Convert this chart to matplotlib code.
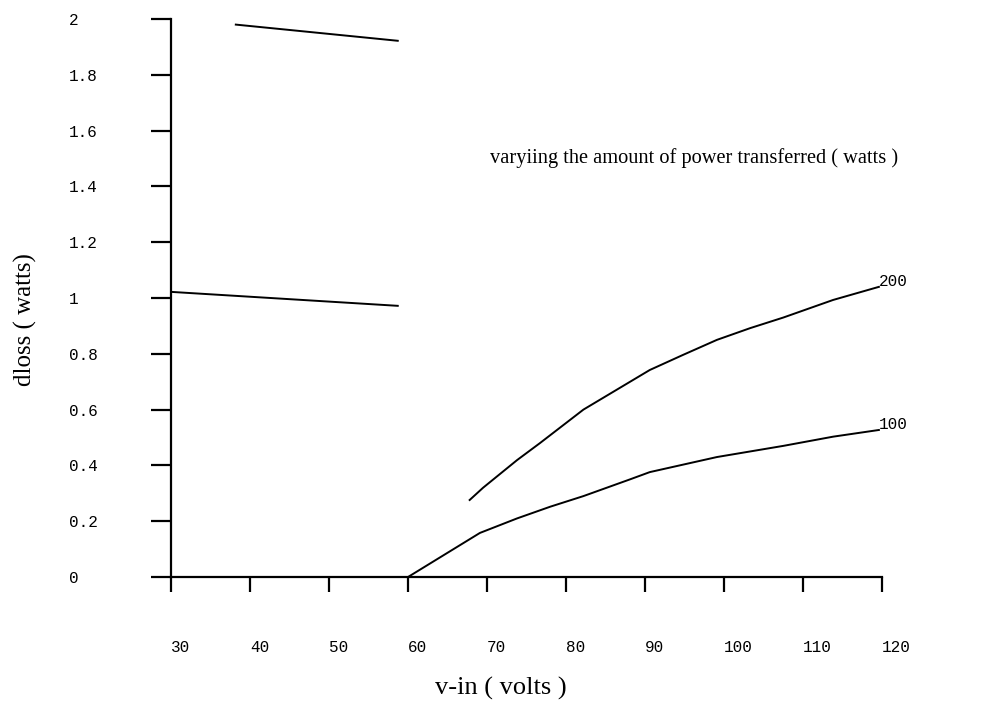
import numpy as np
import matplotlib.pyplot as plt

# data
top_v = [38.2, 58.7]
top_loss = [1.98, 1.922]

mid_v = [30, 58.7]
mid_loss = [1.022, 0.972]

p100_v = [60, 69.1, 73.8, 78.0, 82.2, 88.1, 90.6, 99.1, 107.5, 113.8, 119.6]
p100_loss = [0.0, 0.158, 0.21, 0.252, 0.29, 0.35, 0.376, 0.43, 0.47, 0.503, 0.527]

p200_v = [67.8, 69.5, 73.8, 76.7, 82.2, 90.6, 94.8, 99.1, 103.3, 107.5, 113.8, 119.6]
p200_loss = [0.276, 0.32, 0.419, 0.48, 0.60, 0.742, 0.796, 0.85, 0.892, 0.93, 0.993, 1.04]

xticks = [30, 40, 50, 60, 70, 80, 90, 100, 110, 120]
yticks = [0, 0.2, 0.4, 0.6, 0.8, 1.0, 1.2, 1.4, 1.6, 1.8, 2.0]
ytick_labels = ["0", "0.2", "0.4", "0.6", "0.8", "1", "1.2", "1.4", "1.6", "1.8", "2"]

mono = "Liberation Mono"
serif = "Liberation Serif"

fig = plt.figure(figsize=(9.96, 7.15), dpi=100)
ax = fig.add_axes([0.1717, 0.193, 0.7139, 0.7804])

lw = 1.4
ax.plot(top_v, top_loss, color="black", lw=lw)
ax.plot(mid_v, mid_loss, color="black", lw=lw)
ax.plot(p100_v, p100_loss, color="black", lw=lw)
ax.plot(p200_v, p200_loss, color="black", lw=lw)

ax.text(119.6, 1.06, "200", fontfamily=mono, fontsize=11.5, ha="left", va="center")
ax.text(119.6, 0.548, "100", fontfamily=mono, fontsize=11.5, ha="left", va="center")

ax.text(96.2, 1.5, "varyiing the amount of power transferred ( watts )",
        fontfamily=serif, fontsize=14.7, ha="center", va="center")

ax.set_xlim(30, 120)
ax.set_ylim(0, 2)
ax.spines["top"].set_visible(False)
ax.spines["right"].set_visible(False)
ax.spines["left"].set_linewidth(1.6)
ax.spines["bottom"].set_linewidth(1.6)

ax.set_xticks(xticks)
ax.set_xticklabels([str(t) for t in xticks], fontfamily=mono, fontsize=11.5, ha="left")
ax.set_yticks(yticks)
ax.set_yticklabels(ytick_labels, fontfamily=mono, fontsize=11.5, ha="left")
ax.tick_params(axis="x", direction="out", length=11, width=1.6, pad=34)
ax.tick_params(axis="y", direction="out", length=14.5, width=1.6, pad=59)

ax.set_xlabel("v-in ( volts )", fontfamily=serif, fontsize=19, va="center")
ax.xaxis.set_label_coords(0.464, -0.2)
ax.set_ylabel("dloss ( watts)", fontfamily=serif, fontsize=18, va="center")
ax.yaxis.set_label_coords(-0.205, 0.4606)

fig.savefig("out.png", dpi=100)
